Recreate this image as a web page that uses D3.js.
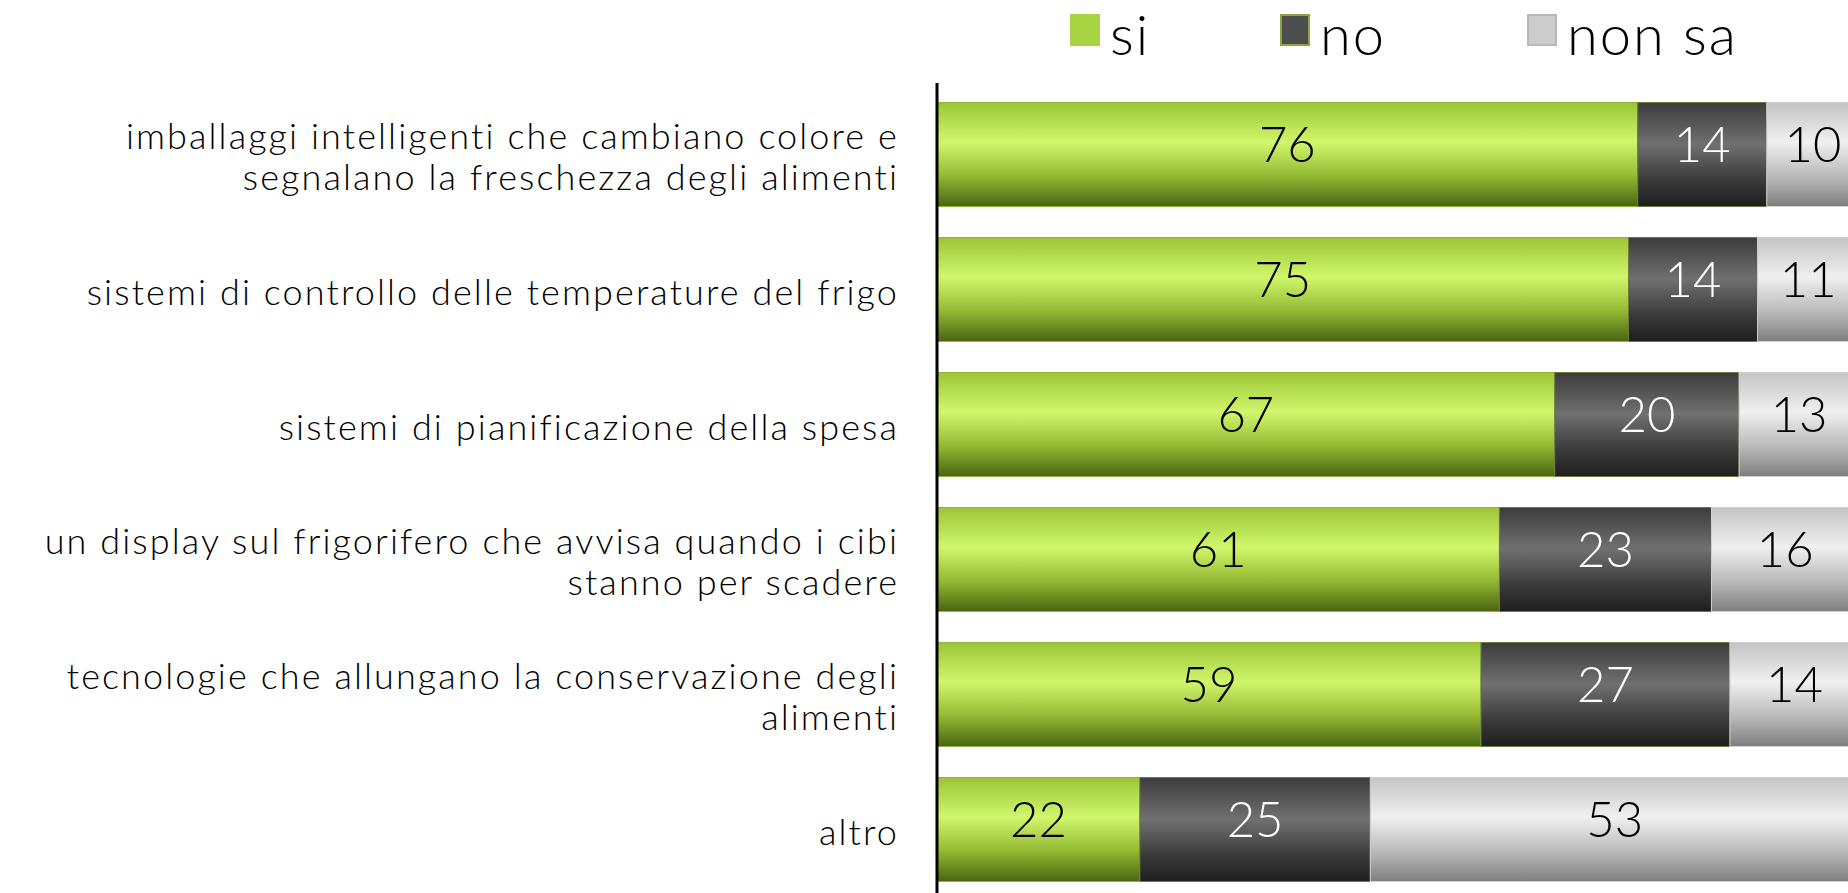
<!DOCTYPE html>
<html>
<head>
<meta charset="utf-8">
<script src="https://cdn.jsdelivr.net/npm/d3@7"></script>
<style>
  body { margin: 0; background: #fff; }
  svg text { font-family: Lato, "Noto Sans", sans-serif; font-weight: 300; }
</style>
</head>
<body>
<svg width="1848" height="893"></svg>
<script>
// data
const categories = [
  'imballaggi intelligenti che cambiano colore e\nsegnalano la freschezza degli alimenti',
  'sistemi di controllo delle temperature del frigo',
  'sistemi di pianificazione della spesa',
  'un display sul frigorifero che avvisa quando i cibi\nstanno per scadere',
  'tecnologie che allungano la conservazione degli\nalimenti',
  'altro'
]
const si = [76, 75, 67, 61, 59, 22]
const no = [14, 14, 20, 23, 27, 25]
const nonSa = [10, 11, 13, 16, 14, 53]
const seriesNames = ['si', 'no', 'non sa']

const svg = d3.select('svg')
const width = +svg.attr('width')
const height = +svg.attr('height')

const axisX = 937

const rows = categories.map((c, i) => ({cat: c, si: si[i], no: no[i], 'non sa': nonSa[i]}))
const stacked = d3.stack().keys(seriesNames)(rows)

const xScale = d3.scaleLinear()
  .domain([0, 100])
  .range([axisX, axisX + 922])

const yScale = d3.scaleBand()
  .domain(categories)
  .range([87, 897])
  .paddingInner(0.23)
  .paddingOuter(0.115)

// gradients, one per series
const defs = svg.append('defs')
const grads = {
  'si': [['0%', '#9cc536'], ['38%', '#d0f76c'], ['70%', '#94bb34'], ['100%', '#4b6410']],
  'no': [['0%', '#3c3c3c'], ['40%', '#707070'], ['75%', '#3a3a3a'], ['100%', '#1e1e1e']],
  'non sa': [['0%', '#c4c4c4'], ['38%', '#f0f0f0'], ['72%', '#b8b8b8'], ['100%', '#7e7e7e']]
}
seriesNames.forEach((k, i) => {
  const lg = defs.append('linearGradient')
    .attr('id', 'g' + i)
    .attr('x1', 0).attr('y1', 0).attr('x2', 0).attr('y2', 1)
  grads[k].forEach(s => lg.append('stop').attr('offset', s[0]).attr('stop-color', s[1]))
})
const strokes = {'si': '#8fb63a', 'no': '#6a7a40', 'non sa': '#d0d0d0'}
const textColor = {'si': '#000', 'no': '#fff', 'non sa': '#000'}

const layers = svg.selectAll('g.layer').data(stacked)
  .enter().append('g')
    .attr('class', 'layer')

layers.selectAll('rect').data(d => d.map(v => ({v, key: d.key})))
  .enter().append('rect')
    .attr('x', d => xScale(d.v[0]))
    .attr('y', d => yScale(d.v.data.cat))
    .attr('width', d => xScale(d.v[1]) - xScale(d.v[0]))
    .attr('height', yScale.bandwidth())
    .attr('fill', d => 'url(#g' + seriesNames.indexOf(d.key) + ')')
    .attr('stroke', d => strokes[d.key])
    .attr('stroke-width', 1)

// value labels sit a bit above the middle of the bar
layers.selectAll('text').data(d => d.map(v => ({v, key: d.key})))
  .enter().append('text')
    .attr('x', d => (xScale(d.v[0]) + xScale(d.v[1])) / 2)
    .attr('y', d => yScale(d.v.data.cat) + yScale.bandwidth() / 2)
    .attr('dy', '0.16em')
    .attr('text-anchor', 'middle')
    .attr('font-size', 49)
    .attr('fill', d => textColor[d.key])
    .text(d => d.v[1] - d.v[0])

// category labels, right aligned against the axis
const labels = svg.selectAll('text.cat').data(categories)
  .enter().append('text')
    .attr('class', 'cat')
    .attr('text-anchor', 'end')
    .attr('font-size', 36)
    .attr('letter-spacing', 2.1)
    .attr('fill', '#000')

labels.each(function (d) {
  const lines = d.split('\n')
  const cy = yScale(d) + yScale.bandwidth() / 2 + 3
  const lh = 41
  lines.forEach((line, j) => {
    d3.select(this).append('tspan')
      .attr('x', 899)
      .attr('y', cy + (j - (lines.length - 1) / 2) * lh)
      .attr('dy', '0.34em')
      .text(line)
  })
})

// vertical axis line
svg.append('line')
  .attr('x1', axisX).attr('x2', axisX)
  .attr('y1', 83).attr('y2', height)
  .attr('stroke', '#000')
  .attr('stroke-width', 3)

// legend
const legendX = [1070, 1280, 1527]
const legendFill = {'si': '#a8d441', 'no': '#4d4d4d', 'non sa': '#cccccc'}
const legendStroke = {'si': '#a8d441', 'no': '#86a83c', 'non sa': '#b8b8b8'}
const legend = svg.selectAll('g.legend').data(seriesNames)
  .enter().append('g')
    .attr('class', 'legend')
    .attr('transform', (d, i) => `translate(${legendX[i]},14)`)

legend.append('rect')
  .attr('x', 1).attr('y', 1)
  .attr('width', 28).attr('height', 30)
  .attr('fill', d => legendFill[d])
  .attr('stroke', d => legendStroke[d])
  .attr('stroke-width', 2)

legend.append('text')
  .attr('x', 40)
  .attr('y', 41)
  .attr('font-size', 56)
  .attr('letter-spacing', 2)
  .attr('fill', '#000')
  .text(d => d)
</script>
</body>
</html>
